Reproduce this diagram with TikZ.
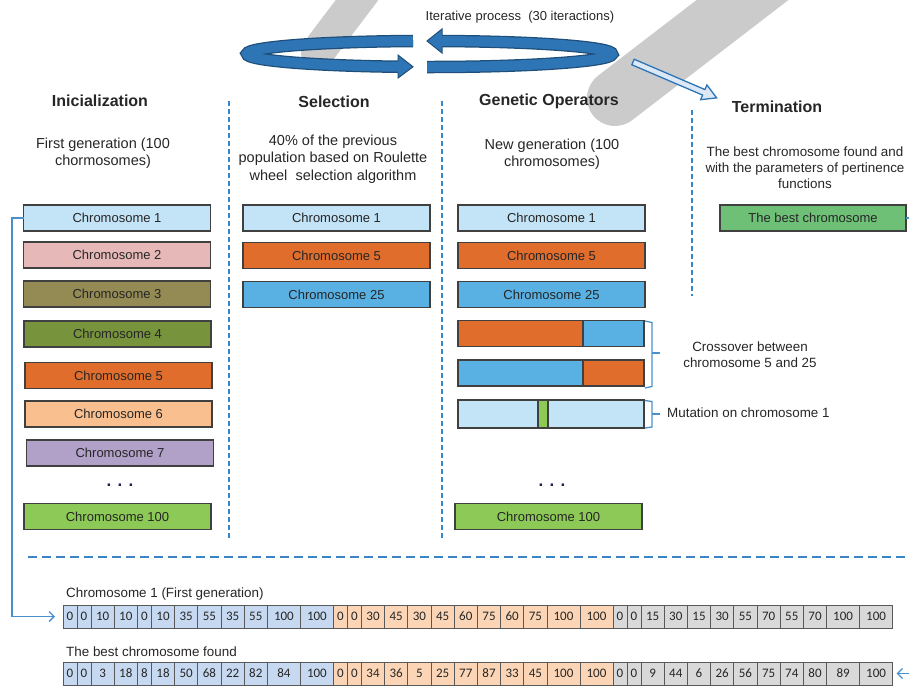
\documentclass[tikz,border=0pt]{standalone}
\usepackage{fontspec}
\setmainfont{Liberation Sans}
\newfontfamily\cellfont{Carlito}
\usetikzlibrary{arrows.meta,calc}
\definecolor{txt}{HTML}{262626}
\definecolor{boxline}{HTML}{404040}
\definecolor{celline}{HTML}{595959}
\definecolor{sepblue}{HTML}{3A85C6}
\definecolor{connblue}{HTML}{4A90CF}
\definecolor{ribbon}{HTML}{2E75B6}
\definecolor{ribbondk}{HTML}{1F4E79}
\definecolor{wmgray}{HTML}{CBCBCB}
\definecolor{cA}{HTML}{C3E3F6}
\definecolor{cB}{HTML}{E6B9B8}
\definecolor{cC}{HTML}{948A54}
\definecolor{cD}{HTML}{77933C}
\definecolor{cE}{HTML}{E06D2B}
\definecolor{cF}{HTML}{F9BF8F}
\definecolor{cG}{HTML}{B1A0C7}
\definecolor{cH}{HTML}{8DC956}
\definecolor{cI}{HTML}{58B0E3}
\definecolor{cJ}{HTML}{6FC077}
\definecolor{sA}{HTML}{C6D9F1}
\definecolor{sB}{HTML}{FBD5B5}
\definecolor{sC}{HTML}{D9D9D9}
\begin{document}
\begin{tikzpicture}[x=1pt,y=-1pt,
  chromo/.style={draw=boxline, line width=1.2pt, minimum width=187pt, minimum height=26pt, inner sep=0pt, outer sep=0pt, font=\fontsize{13}{15}\selectfont, text=txt},
  part/.style={draw=boxline, line width=1.2pt, minimum height=26pt, inner sep=0pt, outer sep=0pt},
  head/.style={font=\bfseries\fontsize{16}{19}\selectfont, text=txt, inner sep=0pt, text height=12pt, text depth=3.5pt},
  sub/.style={font=\fontsize{14.5}{17.5}\selectfont, align=center, text=txt, inner sep=0pt},
  small/.style={font=\fontsize{13.4}{16}\selectfont, text=txt, inner sep=0pt},
  vsep/.style={draw=sepblue, line width=1.3pt, dash pattern=on 5pt off 3pt},
  hsep/.style={draw=sepblue, line width=1.3pt, dash pattern=on 9pt off 5pt},
  conn/.style={draw=connblue, line width=1.3pt},
  brk/.style={draw=connblue, line width=1.3pt},
  cell/.style={draw=celline, line width=1pt, inner sep=0pt, outer sep=0pt, minimum height=23pt, font=\cellfont\fontsize{13}{15}\selectfont, text=txt},
  anchorpt/.style={inner sep=0pt, outer sep=0pt, minimum size=0pt},
  dotsn/.style={font=\bfseries\fontsize{17}{17}\selectfont, text=txt!80!blue, inner sep=0pt},
  ribout/.style={draw=ribbondk, line width=12.5pt},
  ribin/.style={draw=ribbon, line width=10pt},
]
\useasboundingbox (0,0) rectangle (909,686);
\clip (0,0) rectangle (909,686);

% watermark
\draw[wmgray, line width=34pt, line cap=round] (372,-20) .. controls (350,10) and (330,35) .. (318,52);
\draw[wmgray, line width=56pt, line cap=round] (775,-25) -- (615,98);

% title and ribbon arrows
\node[small, font=\fontsize{13}{15}\selectfont] (title) at (520,17) {Iterative process\ \ (30 iteractions)};
\draw[ribout] (413,41) arc[start angle=264.8, end angle=99.9, x radius=182.5, y radius=13];
\draw[ribin] (413,41) arc[start angle=264.8, end angle=99.9, x radius=182.5, y radius=13];
\fill[ribbon] (398,55) -- (413,66.8) -- (398,78) -- cycle;
\draw[ribbondk, line width=1pt, line join=miter] (398,61) -- (398,55) -- (413,66.8) -- (398,78) -- (398,72.5);
\draw[ribout] (427,67) arc[start angle=90.8, end angle=-86.1, x radius=182.5, y radius=13];
\draw[ribin] (427,67) arc[start angle=90.8, end angle=-86.1, x radius=182.5, y radius=13];
\fill[ribbon] (442,29) -- (427,41) -- (442,53) -- cycle;
\draw[ribbondk, line width=1pt, line join=miter] (442,35) -- (442,29) -- (427,41) -- (442,53) -- (442,47);

% hollow arrow to termination
\begin{scope}[shift={(633,62)}, rotate=-23.2]
  \filldraw[fill=sA!60!white, draw=ribbon, line width=1.3pt, line join=miter]
    (0,-3) -- (77,-3) -- (77,-8) -- (91,0) -- (77,8) -- (77,3) -- (0,3) -- cycle;
\end{scope}

% separators
\draw[vsep] (229,101) -- (229,540);
\draw[vsep] (442,101) -- (442,540);
\draw[vsep] (692,110) -- (692,296);
\draw[hsep] (28,557) -- (907,557);

% headers
\node[head] (hInit) at (100,102) {Inicialization};
\node[head] (hSel) at (334,103) {Selection};
\node[head] (hGen) at (549,101) {Genetic Operators};
\node[head] (hTerm) at (777,108) {Termination};

% subtitles
\node[sub] (sInit) at (103,153) {First generation (100\\chormosomes)};
\node[sub] (sSel) at (333,159) {40\% of the previous\\population based on Roulette\\wheel\ \ selection algorithm};
\node[sub] (sGen) at (552,154) {New generation (100\\chromosomes)};
\node[sub, font=\fontsize{13.4}{16}\selectfont] (sTerm) at (805,168) {The best chromosome found and\\with the parameters of pertinence\\functions};

% column 1
\node[chromo, fill=cA] (c1) at (117,218) {Chromosome 1};
\node[chromo, fill=cB] (c2) at (117,255) {Chromosome 2};
\node[chromo, fill=cC] (c3) at (117,294) {Chromosome 3};
\node[chromo, fill=cD] (c4) at (117.5,334) {Chromosome 4};
\node[chromo, fill=cE] (c5) at (118.5,375.5) {Chromosome 5};
\node[chromo, fill=cF] (c6) at (118.5,414) {Chromosome 6};
\node[chromo, fill=cG] (c7) at (120,453) {Chromosome 7};
\node[dotsn] (d1) at (120,485) {. . .};
\node[chromo, fill=cH] (c100) at (117.5,516.5) {Chromosome 100};

% column 2
\node[chromo, fill=cA] (s1) at (336.5,218) {Chromosome 1};
\node[chromo, fill=cE] (s5) at (336.5,255.5) {Chromosome 5};
\node[chromo, fill=cI] (s25) at (336.5,294.5) {Chromosome 25};

% column 3
\node[chromo, fill=cA] (g1) at (551.5,218) {Chromosome 1};
\node[chromo, fill=cE] (g5) at (551.5,255.5) {Chromosome 5};
\node[chromo, fill=cI] (g25) at (551.5,294.5) {Chromosome 25};
\node[part, fill=cE, minimum width=125pt, anchor=west] (xa1) at (458,333.5) {};
\node[part, fill=cI, minimum width=61pt, anchor=west] (xa2) at (xa1.east) {};
\node[part, fill=cI, minimum width=125pt, anchor=west] (xb1) at (458,373) {};
\node[part, fill=cE, minimum width=61pt, anchor=west] (xb2) at (xb1.east) {};
\node[part, fill=cA, minimum width=186pt, minimum height=28pt, anchor=west] (mu) at (458,414) {};
\node[part, fill=cH, minimum width=10pt, minimum height=28pt] (mug) at (543,414) {};
\node[dotsn] (d2) at (552,485) {. . .};
\node[chromo, fill=cH] (g100) at (548.5,516.5) {Chromosome 100};

% brackets
\draw[brk] (645,321) -- (652,322.5) -- (652,386.5) -- (645,388);
\draw[brk] (652,353) -- (660,353);
\draw[brk] (645,400.5) -- (652,401.5) -- (652,427) -- (645,428);
\draw[brk] (652,414) -- (660,414);
\node[small, align=center] (tx) at (750,355) {Crossover between\\chromosome 5 and 25};
\node[small, anchor=west] (tm) at (667,413) {Mutation on chromosome 1};

% termination
\node[chromo, fill=cJ, minimum width=186pt] (best) at (813,218) {The best chromosome};

% bottom arrays
\node[small, anchor=west] (lab1) at (66,594) {Chromosome 1 (First generation)};
\node[small, anchor=west] (lab2) at (66,652) {The best chromosome found};

\node[anchorpt] (r1c0) at (63,616.5) {};
\foreach \v/\w/\f [count=\i, remember=\i as \j (initially 0)] in {
  0/14/sA,0/14/sA,10/23.2/sA,10/23.2/sA,0/14/sA,10/23.2/sA,35/23.2/sA,55/23.2/sA,35/23.2/sA,55/23.2/sA,100/33/sA,100/33/sA,
  0/14/sB,0/14/sB,30/23.2/sB,45/23.2/sB,30/23.2/sB,45/23.2/sB,60/23.2/sB,75/23.2/sB,60/23.2/sB,75/23.2/sB,100/33/sB,100/33/sB,
  0/14/sC,0/14/sC,15/23.2/sC,30/23.2/sC,15/23.2/sC,30/23.2/sC,55/23.2/sC,70/23.2/sC,55/23.2/sC,70/23.2/sC,100/33/sC,100/33/sC}
  {\node[cell, minimum width=\w, fill=\f, anchor=west] (r1c\i) at (r1c\j.east) {\v};}

\node[anchorpt] (r2c0) at (63,673.5) {};
\foreach \v/\w/\f [count=\i, remember=\i as \j (initially 0)] in {
  0/14/sA,0/14/sA,3/23.2/sA,18/23.2/sA,8/14/sA,18/23.2/sA,50/23.2/sA,68/23.2/sA,22/23.2/sA,82/23.2/sA,84/33/sA,100/33/sA,
  0/14/sB,0/14/sB,34/23.2/sB,36/23.2/sB,5/23.2/sB,25/23.2/sB,77/23.2/sB,87/23.2/sB,33/23.2/sB,45/23.2/sB,100/33/sB,100/33/sB,
  0/14/sC,0/14/sC,9/23.2/sC,44/23.2/sC,6/23.2/sC,26/23.2/sC,56/23.2/sC,75/23.2/sC,74/23.2/sC,80/23.2/sC,89/33/sC,100/33/sC}
  {\node[cell, minimum width=\w, fill=\f, anchor=west] (r2c\i) at (r2c\j.east) {\v};}

% connectors
\coordinate (bendA) at (12,218);
\coordinate (bendB) at (920,218);
\draw[conn, -{Straight Barb[length=5pt,width=10pt]}, shorten >=8pt] (c1.west) -- (bendA) |- (r1c1.west);
\draw[conn, -{Straight Barb[length=5pt,width=10pt]}, shorten >=4pt] (best.east) -- (bendB) |- (r2c36.east);
\end{tikzpicture}
\end{document}
